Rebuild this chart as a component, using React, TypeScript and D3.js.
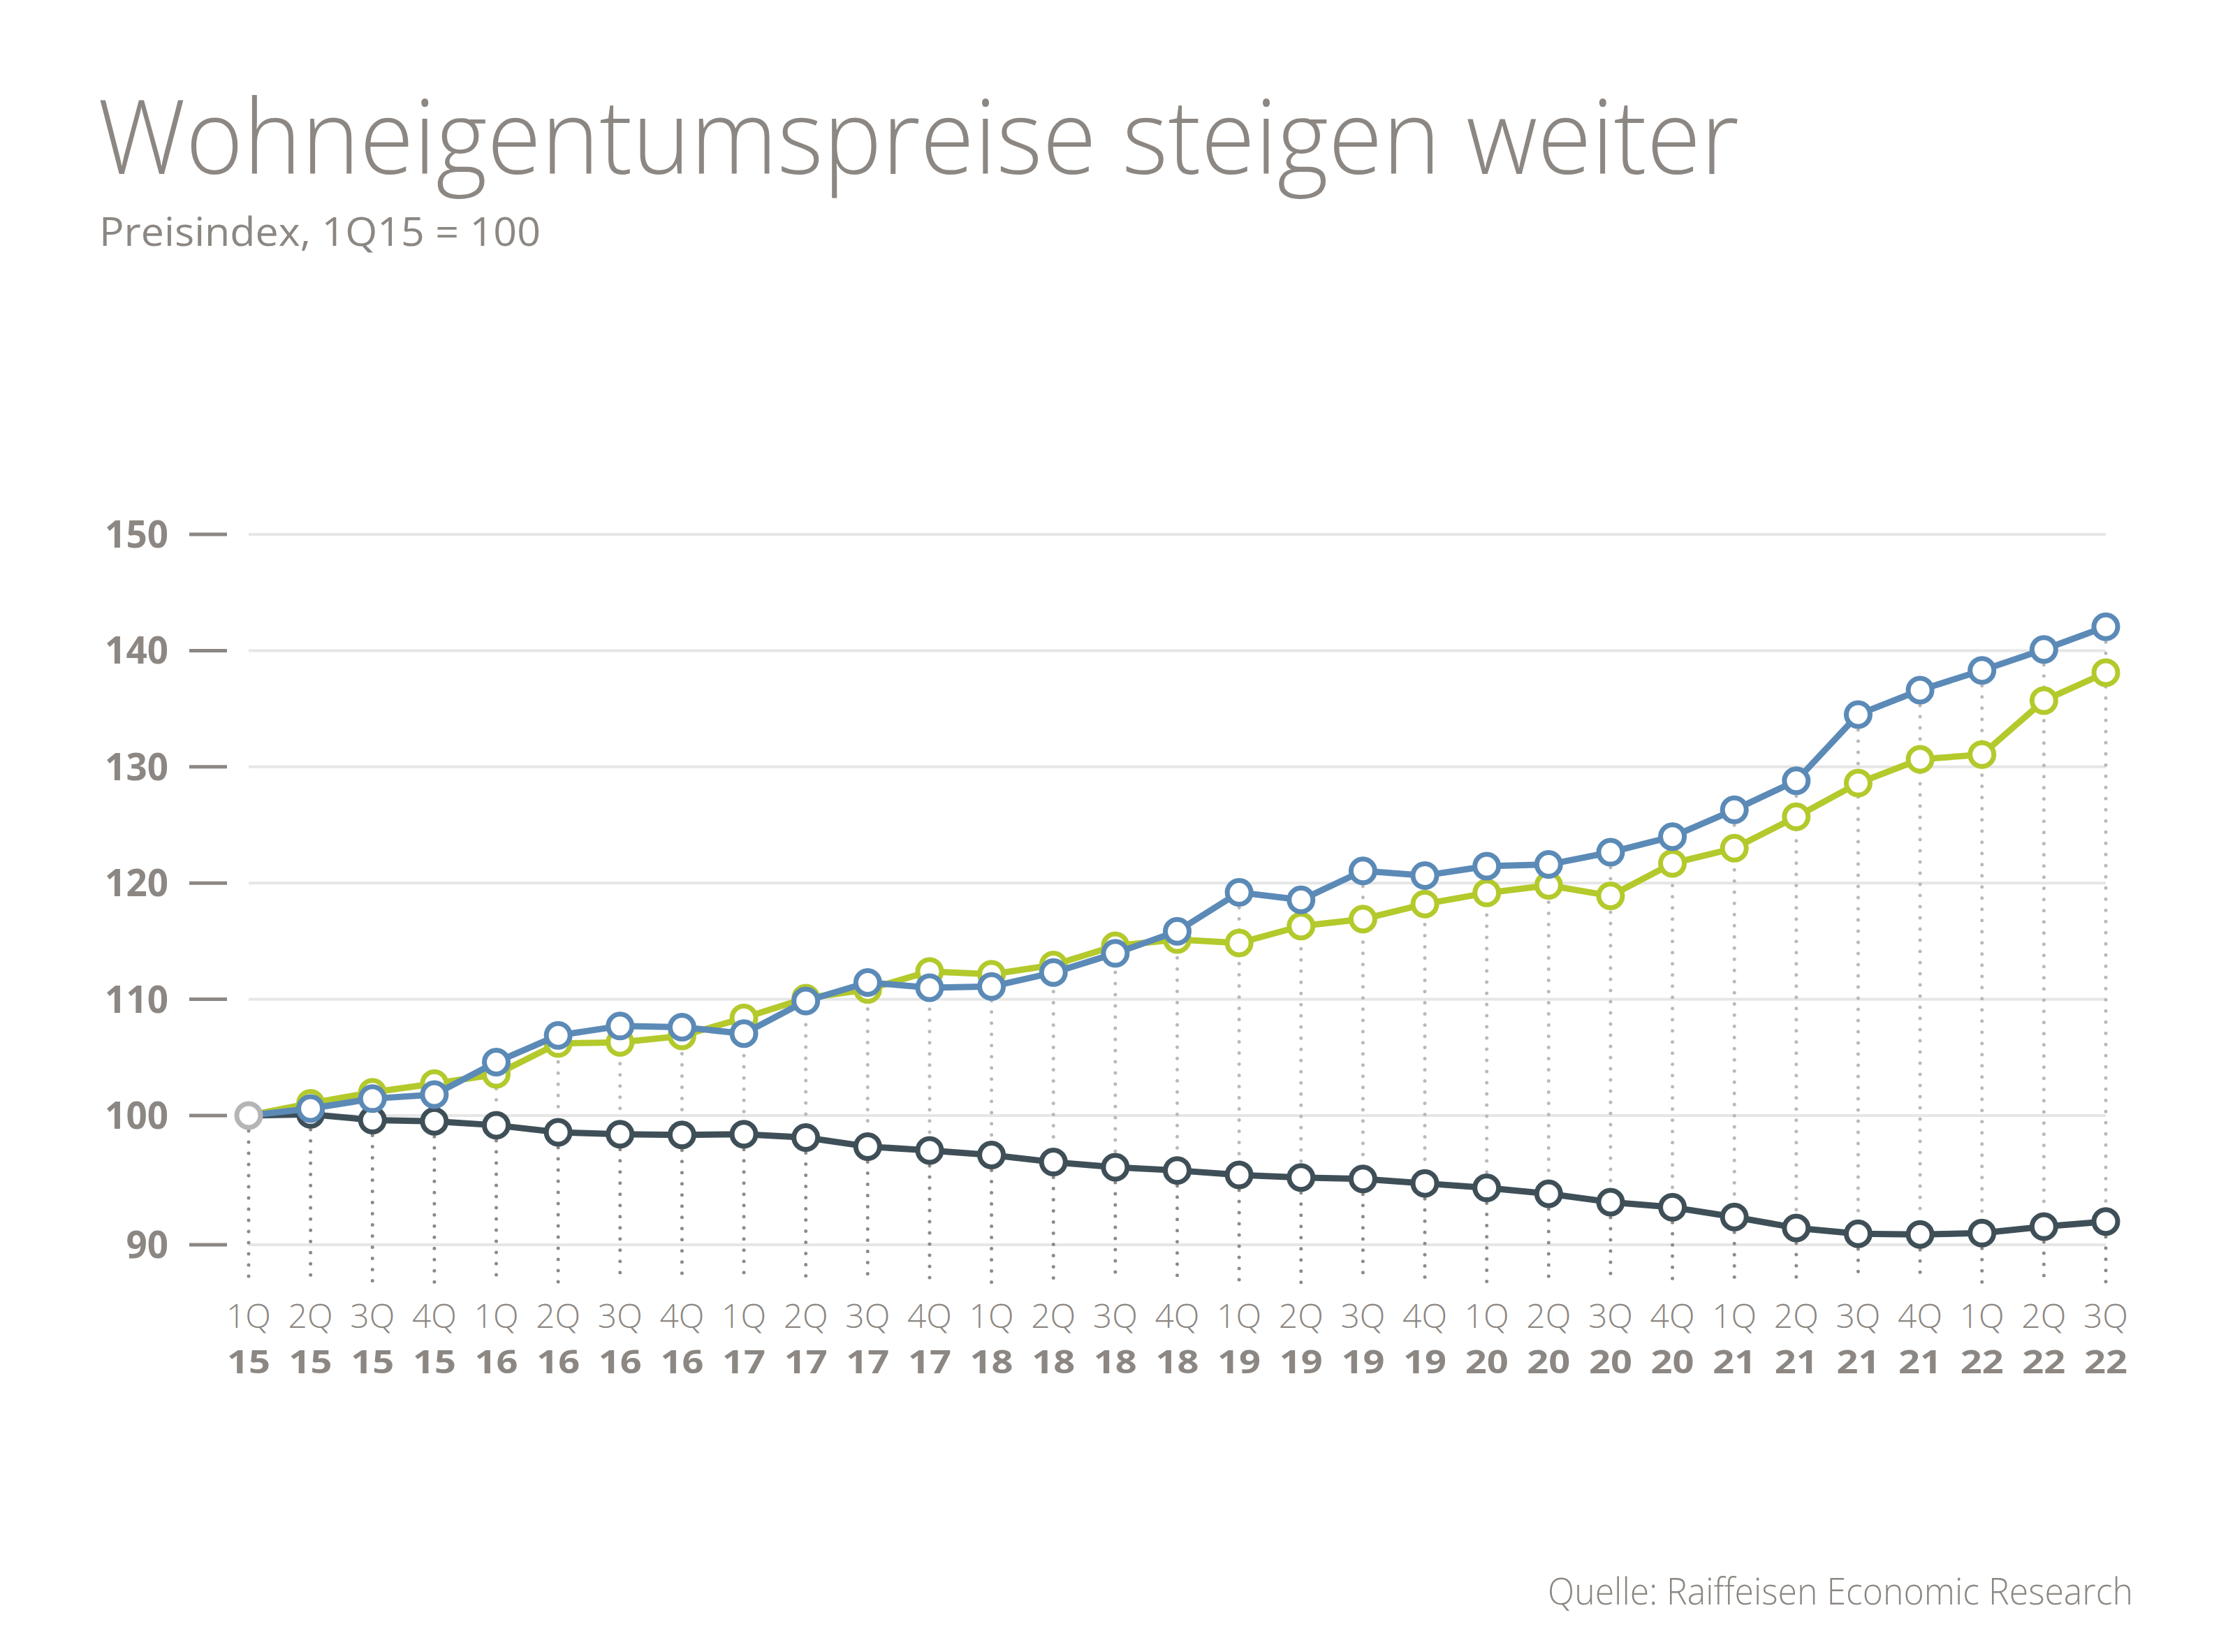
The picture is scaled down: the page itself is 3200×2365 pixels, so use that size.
import { useEffect, useRef } from 'react';
import * as d3 from 'd3';

// Quartale 1Q15 .. 3Q22
const quarters = [
    "1Q", "2Q", "3Q", "4Q", "1Q", "2Q", "3Q", "4Q", "1Q", "2Q", "3Q", "4Q",
    "1Q", "2Q", "3Q", "4Q", "1Q", "2Q", "3Q", "4Q", "1Q", "2Q", "3Q", "4Q",
    "1Q", "2Q", "3Q", "4Q", "1Q", "2Q", "3Q"
];
const years = [
    "15", "15", "15", "15", "16", "16", "16", "16", "17", "17", "17", "17",
    "18", "18", "18", "18", "19", "19", "19", "19", "20", "20", "20", "20",
    "21", "21", "21", "21", "22", "22", "22"
];

const seriesBlue = [
    100, 100.6, 101.45, 101.8, 104.6, 106.9, 107.7, 107.6, 107.05, 109.85,
    111.45, 111.0, 111.1, 112.3, 113.95, 115.85, 119.2, 118.55, 121.05, 120.65,
    121.45, 121.6, 122.65, 124.0, 126.3, 128.8, 134.5, 136.6, 138.3, 140.1, 142.05
];
const seriesGreen = [
    100, 101.05, 102.0, 102.75, 103.55, 106.2, 106.3, 106.85, 108.4, 110.1,
    110.85, 112.4, 112.15, 112.95, 114.6, 115.15, 114.85, 116.3, 116.9, 118.2,
    119.15, 119.8, 118.9, 121.7, 123.0, 125.7, 128.6, 130.65, 131.05, 135.7, 138.1
];
const seriesDark = [
    100, 100.1, 99.65, 99.55, 99.25, 98.7, 98.55, 98.5, 98.55, 98.3,
    97.6, 97.3, 96.95, 96.4, 96.0, 95.75, 95.4, 95.2, 95.1, 94.75,
    94.4, 93.95, 93.3, 92.9, 92.15, 91.3, 90.85, 90.8, 90.9, 91.4, 91.8
];

const yTicks = [90, 100, 110, 120, 130, 140, 150];

const WIDTH = 3200;
const HEIGHT = 2365;
const GREY = "#8c8782";

export default function App() {
    const svgRef = useRef<SVGSVGElement>(null);

    useEffect(() => {
        const svg = d3.select(svgRef.current);
        svg.selectAll("*").remove();
        svg.attr("width", WIDTH).attr("height", HEIGHT);

        const idx = quarters.map((_, i) => i);

        // Skalen (Achse unter 100 ist im Original gestreckt)
        const x = d3.scalePoint<number>()
            .domain(idx)
            .range([356, 3015]);

        const y = d3.scaleLinear()
            .domain([90, 100, 150])
            .range([1782, 1597, 765]);

        // Titel
        svg.append("text")
            .attr("x", 140)
            .attr("y", 249)
            .attr("textLength", 2350)
            .attr("lengthAdjust", "spacingAndGlyphs")
            .style("font-family", "'Open Sans', sans-serif")
            .style("font-weight", 300)
            .style("font-size", "147px")
            .style("fill", GREY)
            .text("Wohneigentumspreise steigen weiter");

        svg.append("text")
            .attr("x", 142)
            .attr("y", 352)
            .attr("textLength", 632)
            .attr("lengthAdjust", "spacingAndGlyphs")
            .style("font-family", "'Open Sans', sans-serif")
            .style("font-size", "56px")
            .style("fill", GREY)
            .text("Preisindex, 1Q15 = 100");

        // Gitterlinien
        svg.append("g")
            .selectAll("line")
            .data(yTicks)
            .enter().append("line")
            .attr("x1", x(0)!)
            .attr("x2", x(idx.length - 1)!)
            .attr("y1", d => y(d))
            .attr("y2", d => y(d))
            .attr("stroke", "#e6e6e6")
            .attr("stroke-width", 4);

        // Y-Achse: Striche + Labels
        const yAxis = svg.append("g");
        yAxis.selectAll("line")
            .data(yTicks)
            .enter().append("line")
            .attr("x1", 271)
            .attr("x2", 325)
            .attr("y1", d => y(d))
            .attr("y2", d => y(d))
            .attr("stroke", GREY)
            .attr("stroke-width", 5);
        yAxis.selectAll("text")
            .data(yTicks)
            .enter().append("text")
            .attr("x", 241)
            .attr("y", d => y(d) + 19)
            .attr("text-anchor", "end")
            .style("font-family", "'Open Sans', sans-serif")
            .style("font-weight", 700)
            .style("font-size", "53px")
            .style("fill", GREY)
            .text(d => d);

        // Gepunktete Senkrechte
        const bottom = 1836;
        const vert = svg.append("g");
        idx.forEach(i => {
            const top = Math.min(y(seriesBlue[i]), y(seriesGreen[i]));
            const yd = y(seriesDark[i]);
            if (yd - top > 30) {
                vert.append("line")
                    .attr("x1", x(i)!).attr("x2", x(i)!)
                    .attr("y1", top + 22).attr("y2", yd - 22)
                    .attr("stroke", "#b9b9b9")
                    .attr("stroke-width", 5)
                    .attr("stroke-linecap", "round")
                    .attr("stroke-dasharray", "0 16");
            }
            vert.append("line")
                .attr("x1", x(i)!).attr("x2", x(i)!)
                .attr("y1", yd + 22).attr("y2", bottom)
                .attr("stroke", "#8f8a86")
                .attr("stroke-width", 5)
                .attr("stroke-linecap", "round")
                .attr("stroke-dasharray", "0 16");
        });

        // Linien
        const line = d3.line<number>()
            .x((_, i) => x(i)!)
            .y(d => y(d));

        const series = [
            { values: seriesDark, color: "#3f4f58" },
            { values: seriesGreen, color: "#b4c92b" },
            { values: seriesBlue, color: "#5b8ab7" }
        ];

        series.forEach(s => {
            const g = svg.append("g");
            g.append("path")
                .datum(s.values)
                .attr("fill", "none")
                .attr("stroke", s.color)
                .attr("stroke-width", 9)
                .attr("stroke-linejoin", "round")
                .attr("d", line);
            g.selectAll("circle")
                .data(s.values.slice(1))
                .enter().append("circle")
                .attr("cx", (_, i) => x(i + 1)!)
                .attr("cy", d => y(d))
                .attr("r", 17)
                .attr("fill", "white")
                .attr("stroke", s.color)
                .attr("stroke-width", 7);
        });

        // Startpunkt 1Q15 = 100
        svg.append("circle")
            .attr("cx", x(0)!)
            .attr("cy", y(100))
            .attr("r", 17)
            .attr("fill", "white")
            .attr("stroke", "#b5b5b5")
            .attr("stroke-width", 7);

        // X-Achse Labels: Quartal + Jahr
        const xLabels = svg.append("g")
            .selectAll("text")
            .data(idx)
            .enter().append("text")
            .attr("text-anchor", "middle")
            .style("font-family", "'Open Sans', sans-serif")
            .style("font-size", "47px")
            .style("fill", GREY);

        xLabels.append("tspan")
            .attr("x", d => x(d)!)
            .attr("y", 1901)
            .attr("textLength", 64)
            .attr("lengthAdjust", "spacingAndGlyphs")
            .style("font-weight", 300)
            .text(d => quarters[d]);

        xLabels.append("tspan")
            .attr("x", d => x(d)!)
            .attr("y", 1966)
            .attr("textLength", 62)
            .attr("lengthAdjust", "spacingAndGlyphs")
            .style("font-weight", 700)
            .text(d => years[d]);

        // Quelle
        svg.append("text")
            .attr("x", 3054)
            .attr("y", 2297)
            .attr("text-anchor", "end")
            .attr("textLength", 838)
            .attr("lengthAdjust", "spacingAndGlyphs")
            .style("font-family", "'Open Sans', sans-serif")
            .style("font-weight", 300)
            .style("font-size", "54px")
            .style("fill", GREY)
            .text("Quelle: Raiffeisen Economic Research");
    }, []);

    return (
        <svg
            ref={svgRef}
            style={{ position: "absolute", left: 0, top: 0, background: "white" }}
        ></svg>
    );
}
